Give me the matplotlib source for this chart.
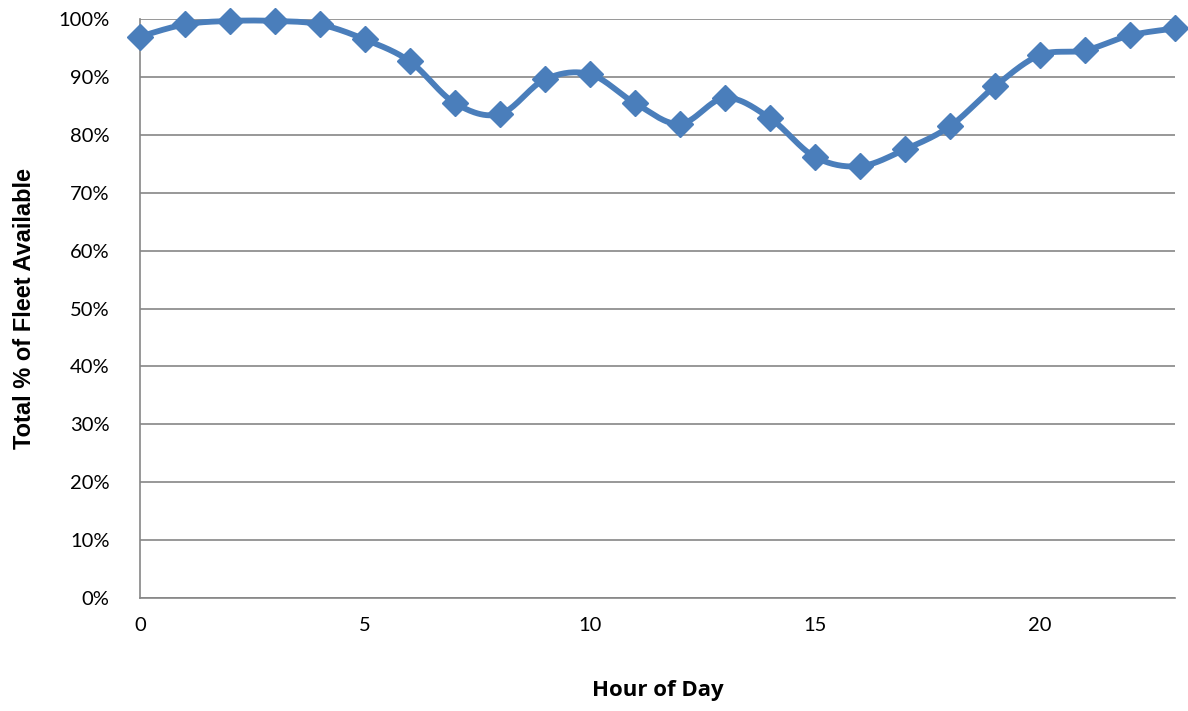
import numpy as np
import matplotlib
matplotlib.use("Agg")
import matplotlib.pyplot as plt
from matplotlib.ticker import FuncFormatter

hours = list(range(24))
fleet_available = [97.0, 99.1, 99.7, 99.7, 99.1, 96.5, 92.7, 85.5, 83.6, 89.6, 90.5, 85.5,
                   81.9, 86.4, 82.9, 76.2, 74.6, 77.5, 81.5, 88.4, 93.8, 94.6, 97.2, 98.4]


def smooth_curve(x, y, steps=30, tension=0.5):
    """Cardinal-spline through the points, like a spreadsheet 'smoothed line'."""
    x = np.asarray(x, float)
    y = np.asarray(y, float)
    px = np.concatenate([[x[0]], x, [x[-1]]])
    py = np.concatenate([[y[0]], y, [y[-1]]])
    xs, ys = [], []
    t = np.linspace(0, 1, steps, endpoint=False)
    for i in range(1, len(px) - 2):
        p0, p1, p2, p3 = (np.array([px[j], py[j]]) for j in (i - 1, i, i + 1, i + 2))
        m1 = tension * (p2 - p0)
        m2 = tension * (p3 - p1)
        h00 = 2 * t**3 - 3 * t**2 + 1
        h10 = t**3 - 2 * t**2 + t
        h01 = -2 * t**3 + 3 * t**2
        h11 = t**3 - t**2
        pts = (np.outer(h00, p1) + np.outer(h10, m1) + np.outer(h01, p2) + np.outer(h11, m2))
        xs.extend(pts[:, 0])
        ys.extend(pts[:, 1])
    xs.append(x[-1])
    ys.append(y[-1])
    return np.array(xs), np.array(ys)


plt.rcParams['font.family'] = ['Lato', 'DejaVu Sans']

fig = plt.figure(figsize=(11.88, 7.11), dpi=100)
ax = fig.add_axes([0.1178, 0.159, 0.8712, 0.814])

color = '#4A7EBB'
sx, sy = smooth_curve(hours, fleet_available)
ax.plot(sx, sy, color=color, lw=4.2, solid_capstyle='round', zorder=3, clip_on=False)
ax.plot(hours, fleet_available, linestyle='none', marker='D', markersize=13,
        color=color, zorder=4, clip_on=False)

ax.set_xlim(0, 23)
ax.set_ylim(0, 100)
ax.set_yticks(np.arange(0, 101, 10))
ax.set_xticks([0, 5, 10, 15, 20])
ax.yaxis.set_major_formatter(FuncFormatter(lambda v, _: f"{v:.0f}%"))
ax.grid(axis='y', color='#868686', lw=1.2)
ax.set_axisbelow(True)
for side in ('top', 'right'):
    ax.spines[side].set_visible(False)
for side in ('left', 'bottom'):
    ax.spines[side].set_color('#868686')
    ax.spines[side].set_linewidth(1.2)
ax.tick_params(length=0, labelsize=14.5, colors='black')
ax.tick_params(axis='y', pad=22)
ax.tick_params(axis='x', pad=14)

ax.set_xlabel('Hour of Day', fontsize=16, fontweight='bold', labelpad=33,
              family=['Open Sans', 'DejaVu Sans'])
ax.set_ylabel('Total % of Fleet Available', fontsize=17, fontweight='bold', labelpad=16,
              family=['Liberation Sans', 'DejaVu Sans'])

fig.savefig('out.png', dpi=100)
